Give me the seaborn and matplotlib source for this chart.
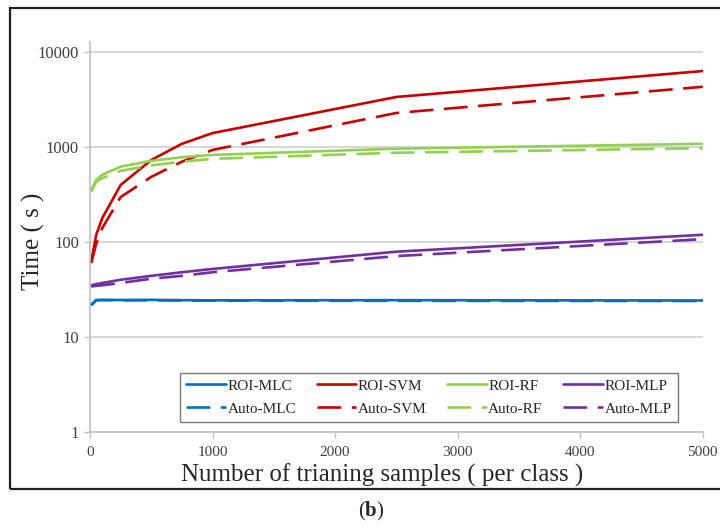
"""Training time vs number of training samples, ROI vs Auto sampling."""

import matplotlib
matplotlib.use("Agg")
import matplotlib.pyplot as plt
import pandas as pd
import seaborn as sns
from matplotlib.lines import Line2D
from matplotlib.patches import Rectangle

N_SAMPLES = [10, 50, 100, 250, 500, 750, 1000, 2500, 5000]

ROI_MLC = [22, 24.5, 24.6, 24.5, 24.6, 24.4, 24.3, 24.4, 24.2]
AUTO_MLC = [21.5, 24.2, 24.4, 24.3, 24.3, 24.2, 24.1, 24.0, 23.9]
ROI_SVM = [62, 118, 178, 398, 730, 1080, 1400, 3360, 6300]
AUTO_SVM = [60, 95, 140, 297, 485, 700, 930, 2280, 4300]
ROI_RF = [350, 450, 510, 620, 715, 780, 825, 960, 1080]
AUTO_RF = [340, 430, 470, 560, 640, 700, 750, 870, 970]
ROI_MLP = [35, 36, 37, 40, 44, 48, 52, 79, 119]
AUTO_MLP = [34, 34.5, 35, 37, 41, 44, 48, 71, 107]

METHODS = ["MLC", "SVM", "RF", "MLP"]
COLORS = {"MLC": "#0070C0", "SVM": "#C80000", "RF": "#92D050", "MLP": "#7030A0"}

series = {
    ("ROI", "MLC"): ROI_MLC, ("Auto", "MLC"): AUTO_MLC,
    ("ROI", "SVM"): ROI_SVM, ("Auto", "SVM"): AUTO_SVM,
    ("ROI", "RF"): ROI_RF, ("Auto", "RF"): AUTO_RF,
    ("ROI", "MLP"): ROI_MLP, ("Auto", "MLP"): AUTO_MLP,
}
rows = []
for (src, method), vals in series.items():
    for n, t in zip(N_SAMPLES, vals):
        rows.append({"n": n, "time": t, "method": method, "source": src})
df = pd.DataFrame(rows)

sns.set_style("white")
plt.rcParams["font.family"] = ["Liberation Serif", "DejaVu Serif"]
plt.rcParams["mathtext.fontset"] = "custom"
plt.rcParams["mathtext.rm"] = "Liberation Serif"
plt.rcParams["mathtext.bf"] = "Liberation Serif:bold"

DASH = (9, 4)
LW = 1.9

fig = plt.figure(figsize=(7.2, 5.3), dpi=100)
ax = fig.add_axes([0.125, 0.185, 0.851, 0.7358])

sns.lineplot(
    data=df, x="n", y="time", hue="method", style="source",
    hue_order=METHODS, style_order=["Auto", "ROI"],
    palette=COLORS, dashes={"ROI": "", "Auto": DASH},
    linewidth=LW, legend=False, ax=ax,
)

ax.set_yscale("log")
ax.set_ylim(1, 10 ** (4 + 10 / 95))
ax.set_xlim(0, 5000)
ax.set_yticks([1, 10, 100, 1000, 10000])
ax.set_yticklabels(["1", "10", "100", "1000", "10000"])
ax.minorticks_off()
ax.set_xticks([0, 1000, 2000, 3000, 4000, 5000])

grid_c = "#D0D0D0"
for v in [10, 100, 1000, 10000]:
    ax.axhline(v, color=grid_c, linewidth=1.2, zorder=0)

for s in ["top", "right"]:
    ax.spines[s].set_visible(False)
for s in ["left", "bottom"]:
    ax.spines[s].set_color("#BFBFBF")
    ax.spines[s].set_linewidth(1.2)

ax.tick_params(axis="both", which="major", direction="out", length=4,
               width=1.0, color="#BFBFBF", labelcolor="#404040",
               left=True, bottom=True)
ax.tick_params(axis="y", labelsize=12, pad=4)
ax.tick_params(axis="x", labelsize=11, pad=6)

ax.set_xlabel("Number of trianing samples ( per class )", fontsize=18)
ax.set_ylabel("Time ( s )", fontsize=18)
ax.xaxis.label.set_verticalalignment("baseline")
ax.xaxis.set_label_coords(0.477, -0.128)
ax.yaxis.set_label_coords(-0.073, 0.49)

handles = []
for method in METHODS:
    handles.append(Line2D([], [], color=COLORS[method], lw=LW, label=f"ROI-{method}"))
    handles.append(Line2D([], [], color=COLORS[method], lw=LW, dashes=DASH,
                          label=f"Auto-{method}"))
leg = ax.legend(
    handles=handles, ncol=4, loc="lower left",
    bbox_to_anchor=(0.147, 0.026, 0.812, 0.159), mode="expand",
    fontsize=11, frameon=True, fancybox=False, handlelength=2.6,
    handletextpad=0.1, columnspacing=1.0, borderaxespad=0, labelspacing=0.6,
)
leg.get_frame().set_edgecolor("#595959")
leg.get_frame().set_linewidth(1.0)

# outer frame around the chart area
fig.patches.append(Rectangle((10 / 720, 41 / 530), 720 / 720, 481 / 530,
                             transform=fig.transFigure, fill=False,
                             edgecolor="#202020", linewidth=1.6))

fig.text(371 / 720, 1 - 511 / 530, r"($\mathbf{b}$)", ha="center", va="center",
         fontsize=15)

fig.savefig("out.png", dpi=100)
